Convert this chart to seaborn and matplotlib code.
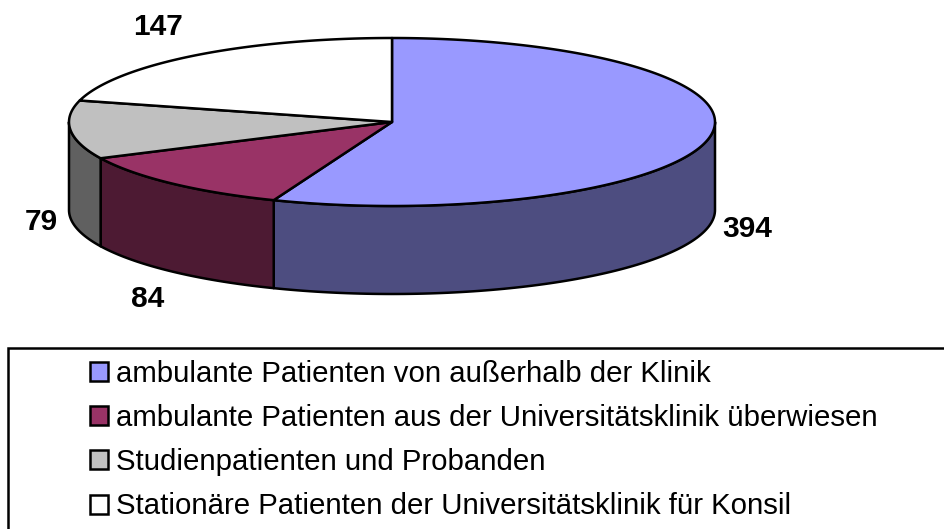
import matplotlib
matplotlib.use("Agg")
import matplotlib.pyplot as plt
from matplotlib.patches import Patch, Polygon, Rectangle
import numpy as np
import seaborn as sns

categories = ['ambulante Patienten von außerhalb der Klinik',
              'ambulante Patienten aus der Universitätsklinik überwiesen',
              'Studienpatienten und Probanden',
              'Stationäre Patienten der Universitätsklinik für Konsil']
values = [394, 84, 79, 147]
colors = ['#9999FF', '#993366', '#C0C0C0', '#FFFFFF']
side_colors = ['#4D4D80', '#4D1A33', '#606060', '#808080']

sns.set_theme(style='white')
plt.rcParams['font.family'] = ['Liberation Sans', 'DejaVu Sans']

# pie geometry in pixels
cx, cy = 392, 122
rx, ry = 323, 84
depth = 88
edge = 1.8


def ellipse(t, dy=0):
    return np.column_stack([cx + rx * np.sin(t), cy + dy - ry * np.cos(t)])


fig, ax = plt.subplots(figsize=(9.45, 5.29), dpi=100)
ax.set_position([0, 0, 1, 1])
ax.set_xlim(0, 945)
ax.set_ylim(529, 0)
ax.axis('off')

angles = np.concatenate([[0], np.cumsum(values)]) / np.sum(values) * 2 * np.pi

# sides first, only the front half of the pie shows
for i in range(len(values)):
    a = max(angles[i], np.pi / 2)
    b = min(angles[i + 1], 3 * np.pi / 2)
    if b <= a:
        continue
    t = np.linspace(a, b, 100)
    pts = np.vstack([ellipse(t), ellipse(t[::-1], depth)])
    ax.add_patch(Polygon(pts, closed=True, facecolor=side_colors[i], edgecolor='black',
                         linewidth=edge, joinstyle='round'))

# top face
for i in range(len(values)):
    t = np.linspace(angles[i], angles[i + 1], 200)
    pts = np.vstack([[cx, cy], ellipse(t)])
    ax.add_patch(Polygon(pts, closed=True, facecolor=colors[i], edgecolor='black',
                         linewidth=edge, joinstyle='round'))

# value labels
label_pos = [(747, 229), (148, 299), (41, 222), (158, 27)]
for v, (x, y) in zip(values, label_pos):
    ax.text(x, y, str(v), fontsize=21.5, fontweight='bold', ha='center', va='center', color='black')

# legend frame runs off the right and bottom edge
ax.add_patch(Rectangle((8, 348), 1000, 300, facecolor='white', edgecolor='black', linewidth=1.8))

handles = [Patch(facecolor=c, edgecolor='black', linewidth=1.8) for c in colors]
ax.legend(handles, categories, loc='upper left', bbox_to_anchor=(81 / 945, 1 - 351 / 529),
          frameon=False, fontsize=21.2, labelcolor='black', handlelength=0.62, handleheight=0.62,
          handletextpad=0.27, labelspacing=0.55, borderpad=0.3, borderaxespad=0)

fig.savefig('out.png', dpi=100)
